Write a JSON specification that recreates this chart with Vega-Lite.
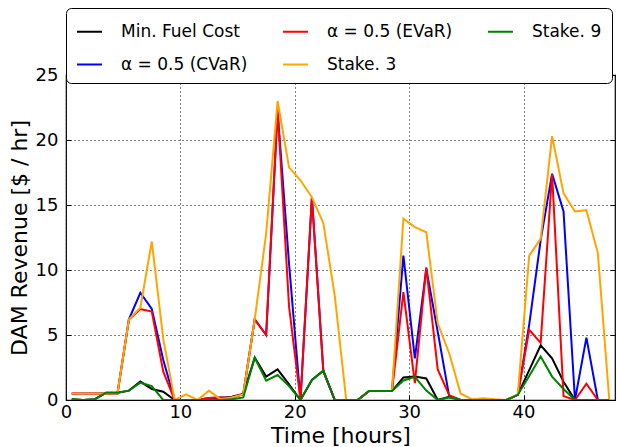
{
 "$schema": "https://vega.github.io/schema/vega-lite/v6.json",
 "width": 549, "height": 325,
 "autosize": "none",
 "padding": {"left": 66, "top": 75, "right": 3, "bottom": 47},
 "background": "white",
 "config": {
  "font": "DejaVu Sans",
  "view": {"stroke": "black", "strokeWidth": 1.2},
  "axis": {"domain": false, "gridColor": "black", "gridDash": [1, 3], "gridWidth": 1, "gridOpacity": 1,
           "tickColor": "black", "tickSize": -5, "tickWidth": 1, "labelColor": "black", "titleColor": "black",
           "labelFontSize": 18, "titleFontSize": 22, "titleFontWeight": "normal", "labelFont": "DejaVu Sans", "titleFont": "DejaVu Sans"}
 },
 "data": {"values": [
{"t":0.5,"s":"Min. Fuel Cost","v":0.05},{"t":1.5,"s":"Min. Fuel Cost","v":0},{"t":2.5,"s":"Min. Fuel Cost","v":0.05},{"t":3.5,"s":"Min. Fuel Cost","v":0.55},{"t":4.5,"s":"Min. Fuel Cost","v":0.55},{"t":5.5,"s":"Min. Fuel Cost","v":0.72},{"t":6.5,"s":"Min. Fuel Cost","v":1.42},{"t":7.5,"s":"Min. Fuel Cost","v":0.85},{"t":8.5,"s":"Min. Fuel Cost","v":0.64},{"t":9.5,"s":"Min. Fuel Cost","v":0},
{"t":10.5,"s":"Min. Fuel Cost","v":0},{"t":11.5,"s":"Min. Fuel Cost","v":0},{"t":12.5,"s":"Min. Fuel Cost","v":0.05},{"t":13.5,"s":"Min. Fuel Cost","v":0.1},{"t":14.5,"s":"Min. Fuel Cost","v":0.25},{"t":15.5,"s":"Min. Fuel Cost","v":0.46},{"t":16.5,"s":"Min. Fuel Cost","v":3.25},{"t":17.5,"s":"Min. Fuel Cost","v":1.8},{"t":18.5,"s":"Min. Fuel Cost","v":2.35},{"t":19.5,"s":"Min. Fuel Cost","v":1.2},
{"t":20.5,"s":"Min. Fuel Cost","v":0},{"t":21.5,"s":"Min. Fuel Cost","v":1.54},{"t":22.5,"s":"Min. Fuel Cost","v":2.25},{"t":23.5,"s":"Min. Fuel Cost","v":0},{"t":24.5,"s":"Min. Fuel Cost","v":0},{"t":25.5,"s":"Min. Fuel Cost","v":0},{"t":26.5,"s":"Min. Fuel Cost","v":0.69},{"t":27.5,"s":"Min. Fuel Cost","v":0.69},{"t":28.5,"s":"Min. Fuel Cost","v":0.69},{"t":29.5,"s":"Min. Fuel Cost","v":1.74},
{"t":30.5,"s":"Min. Fuel Cost","v":1.8},{"t":31.5,"s":"Min. Fuel Cost","v":1.66},{"t":32.5,"s":"Min. Fuel Cost","v":0},{"t":33.5,"s":"Min. Fuel Cost","v":0.25},{"t":34.5,"s":"Min. Fuel Cost","v":0},{"t":35.5,"s":"Min. Fuel Cost","v":0},{"t":36.5,"s":"Min. Fuel Cost","v":0},{"t":37.5,"s":"Min. Fuel Cost","v":0},{"t":38.5,"s":"Min. Fuel Cost","v":0},{"t":39.5,"s":"Min. Fuel Cost","v":0.4},
{"t":40.5,"s":"Min. Fuel Cost","v":2.3},{"t":41.5,"s":"Min. Fuel Cost","v":4.2},{"t":42.5,"s":"Min. Fuel Cost","v":3.2},{"t":43.5,"s":"Min. Fuel Cost","v":1.4},{"t":44.5,"s":"Min. Fuel Cost","v":0},{"t":45.5,"s":"Min. Fuel Cost","v":0},{"t":46.5,"s":"Min. Fuel Cost","v":0},{"t":47.5,"s":"Min. Fuel Cost","v":0},

{"t":0.5,"s":"α = 0.5 (CVaR)","v":0.5},{"t":1.5,"s":"α = 0.5 (CVaR)","v":0.5},{"t":2.5,"s":"α = 0.5 (CVaR)","v":0.5},{"t":3.5,"s":"α = 0.5 (CVaR)","v":0.5},{"t":4.5,"s":"α = 0.5 (CVaR)","v":0.5},{"t":5.5,"s":"α = 0.5 (CVaR)","v":6.2},{"t":6.5,"s":"α = 0.5 (CVaR)","v":8.25},{"t":7.5,"s":"α = 0.5 (CVaR)","v":7.0},{"t":8.5,"s":"α = 0.5 (CVaR)","v":3.1},{"t":9.5,"s":"α = 0.5 (CVaR)","v":0},
{"t":10.5,"s":"α = 0.5 (CVaR)","v":0},{"t":11.5,"s":"α = 0.5 (CVaR)","v":0},{"t":12.5,"s":"α = 0.5 (CVaR)","v":0.15},{"t":13.5,"s":"α = 0.5 (CVaR)","v":0.2},{"t":14.5,"s":"α = 0.5 (CVaR)","v":0.2},{"t":15.5,"s":"α = 0.5 (CVaR)","v":0.45},{"t":16.5,"s":"α = 0.5 (CVaR)","v":6.2},{"t":17.5,"s":"α = 0.5 (CVaR)","v":5.0},{"t":18.5,"s":"α = 0.5 (CVaR)","v":22.2},{"t":19.5,"s":"α = 0.5 (CVaR)","v":10.5},
{"t":20.5,"s":"α = 0.5 (CVaR)","v":0},{"t":21.5,"s":"α = 0.5 (CVaR)","v":15.6},{"t":22.5,"s":"α = 0.5 (CVaR)","v":2.2},{"t":23.5,"s":"α = 0.5 (CVaR)","v":0},{"t":24.5,"s":"α = 0.5 (CVaR)","v":0},{"t":25.5,"s":"α = 0.5 (CVaR)","v":0},{"t":26.5,"s":"α = 0.5 (CVaR)","v":0.69},{"t":27.5,"s":"α = 0.5 (CVaR)","v":0.69},{"t":28.5,"s":"α = 0.5 (CVaR)","v":0.69},{"t":29.5,"s":"α = 0.5 (CVaR)","v":11.1},
{"t":30.5,"s":"α = 0.5 (CVaR)","v":3.2},{"t":31.5,"s":"α = 0.5 (CVaR)","v":10.1},{"t":32.5,"s":"α = 0.5 (CVaR)","v":5.25},{"t":33.5,"s":"α = 0.5 (CVaR)","v":0.3},{"t":34.5,"s":"α = 0.5 (CVaR)","v":0},{"t":35.5,"s":"α = 0.5 (CVaR)","v":0},{"t":36.5,"s":"α = 0.5 (CVaR)","v":0},{"t":37.5,"s":"α = 0.5 (CVaR)","v":0},{"t":38.5,"s":"α = 0.5 (CVaR)","v":0},{"t":39.5,"s":"α = 0.5 (CVaR)","v":0.4},
{"t":40.5,"s":"α = 0.5 (CVaR)","v":5.8},{"t":41.5,"s":"α = 0.5 (CVaR)","v":12.3},{"t":42.5,"s":"α = 0.5 (CVaR)","v":17.4},{"t":43.5,"s":"α = 0.5 (CVaR)","v":14.5},{"t":44.5,"s":"α = 0.5 (CVaR)","v":0},{"t":45.5,"s":"α = 0.5 (CVaR)","v":4.8},{"t":46.5,"s":"α = 0.5 (CVaR)","v":0},{"t":47.5,"s":"α = 0.5 (CVaR)","v":0},

{"t":0.5,"s":"α = 0.5 (EVaR)","v":0.5},{"t":1.5,"s":"α = 0.5 (EVaR)","v":0.5},{"t":2.5,"s":"α = 0.5 (EVaR)","v":0.5},{"t":3.5,"s":"α = 0.5 (EVaR)","v":0.5},{"t":4.5,"s":"α = 0.5 (EVaR)","v":0.5},{"t":5.5,"s":"α = 0.5 (EVaR)","v":6.2},{"t":6.5,"s":"α = 0.5 (EVaR)","v":7.0},{"t":7.5,"s":"α = 0.5 (EVaR)","v":6.8},{"t":8.5,"s":"α = 0.5 (EVaR)","v":2.2},{"t":9.5,"s":"α = 0.5 (EVaR)","v":0},
{"t":10.5,"s":"α = 0.5 (EVaR)","v":0},{"t":11.5,"s":"α = 0.5 (EVaR)","v":0},{"t":12.5,"s":"α = 0.5 (EVaR)","v":0.15},{"t":13.5,"s":"α = 0.5 (EVaR)","v":0.2},{"t":14.5,"s":"α = 0.5 (EVaR)","v":0.2},{"t":15.5,"s":"α = 0.5 (EVaR)","v":0.45},{"t":16.5,"s":"α = 0.5 (EVaR)","v":6.2},{"t":17.5,"s":"α = 0.5 (EVaR)","v":5.0},{"t":18.5,"s":"α = 0.5 (EVaR)","v":22.4},{"t":19.5,"s":"α = 0.5 (EVaR)","v":7.2},
{"t":20.5,"s":"α = 0.5 (EVaR)","v":0},{"t":21.5,"s":"α = 0.5 (EVaR)","v":15.6},{"t":22.5,"s":"α = 0.5 (EVaR)","v":2.2},{"t":23.5,"s":"α = 0.5 (EVaR)","v":0},{"t":24.5,"s":"α = 0.5 (EVaR)","v":0},{"t":25.5,"s":"α = 0.5 (EVaR)","v":0},{"t":26.5,"s":"α = 0.5 (EVaR)","v":0.69},{"t":27.5,"s":"α = 0.5 (EVaR)","v":0.69},{"t":28.5,"s":"α = 0.5 (EVaR)","v":0.69},{"t":29.5,"s":"α = 0.5 (EVaR)","v":8.3},
{"t":30.5,"s":"α = 0.5 (EVaR)","v":1.3},{"t":31.5,"s":"α = 0.5 (EVaR)","v":10.2},{"t":32.5,"s":"α = 0.5 (EVaR)","v":2.35},{"t":33.5,"s":"α = 0.5 (EVaR)","v":0.38},{"t":34.5,"s":"α = 0.5 (EVaR)","v":0},{"t":35.5,"s":"α = 0.5 (EVaR)","v":0},{"t":36.5,"s":"α = 0.5 (EVaR)","v":0},{"t":37.5,"s":"α = 0.5 (EVaR)","v":0},{"t":38.5,"s":"α = 0.5 (EVaR)","v":0},{"t":39.5,"s":"α = 0.5 (EVaR)","v":0.4},
{"t":40.5,"s":"α = 0.5 (EVaR)","v":5.4},{"t":41.5,"s":"α = 0.5 (EVaR)","v":4.4},{"t":42.5,"s":"α = 0.5 (EVaR)","v":17.4},{"t":43.5,"s":"α = 0.5 (EVaR)","v":0.3},{"t":44.5,"s":"α = 0.5 (EVaR)","v":0},{"t":45.5,"s":"α = 0.5 (EVaR)","v":1.25},{"t":46.5,"s":"α = 0.5 (EVaR)","v":0},{"t":47.5,"s":"α = 0.5 (EVaR)","v":0},

{"t":0.5,"s":"Stake. 3","v":0.5},{"t":1.5,"s":"Stake. 3","v":0.5},{"t":2.5,"s":"Stake. 3","v":0.5},{"t":3.5,"s":"Stake. 3","v":0.5},{"t":4.5,"s":"Stake. 3","v":0.5},{"t":5.5,"s":"Stake. 3","v":6.2},{"t":6.5,"s":"Stake. 3","v":7.1},{"t":7.5,"s":"Stake. 3","v":12.2},{"t":8.5,"s":"Stake. 3","v":4.7},{"t":9.5,"s":"Stake. 3","v":0},
{"t":10.5,"s":"Stake. 3","v":0.43},{"t":11.5,"s":"Stake. 3","v":0},{"t":12.5,"s":"Stake. 3","v":0.72},{"t":13.5,"s":"Stake. 3","v":0.05},{"t":14.5,"s":"Stake. 3","v":0.2},{"t":15.5,"s":"Stake. 3","v":0.43},{"t":16.5,"s":"Stake. 3","v":6.2},{"t":17.5,"s":"Stake. 3","v":12.8},{"t":18.5,"s":"Stake. 3","v":23.0},{"t":19.5,"s":"Stake. 3","v":17.9},
{"t":20.5,"s":"Stake. 3","v":16.9},{"t":21.5,"s":"Stake. 3","v":15.6},{"t":22.5,"s":"Stake. 3","v":13.6},{"t":23.5,"s":"Stake. 3","v":8.0},{"t":24.5,"s":"Stake. 3","v":0},{"t":25.5,"s":"Stake. 3","v":0},{"t":26.5,"s":"Stake. 3","v":0.69},{"t":27.5,"s":"Stake. 3","v":0.69},{"t":28.5,"s":"Stake. 3","v":0.69},{"t":29.5,"s":"Stake. 3","v":13.95},
{"t":30.5,"s":"Stake. 3","v":13.3},{"t":31.5,"s":"Stake. 3","v":12.9},{"t":32.5,"s":"Stake. 3","v":5.9},{"t":33.5,"s":"Stake. 3","v":3.6},{"t":34.5,"s":"Stake. 3","v":0.5},{"t":35.5,"s":"Stake. 3","v":0.05},{"t":36.5,"s":"Stake. 3","v":0.13},{"t":37.5,"s":"Stake. 3","v":0.05},{"t":38.5,"s":"Stake. 3","v":0},{"t":39.5,"s":"Stake. 3","v":0.43},
{"t":40.5,"s":"Stake. 3","v":11.1},{"t":41.5,"s":"Stake. 3","v":12.4},{"t":42.5,"s":"Stake. 3","v":20.3},{"t":43.5,"s":"Stake. 3","v":15.9},{"t":44.5,"s":"Stake. 3","v":14.5},{"t":45.5,"s":"Stake. 3","v":14.6},{"t":46.5,"s":"Stake. 3","v":11.3},{"t":47.5,"s":"Stake. 3","v":0},

{"t":0.5,"s":"Stake. 9","v":0.05},{"t":1.5,"s":"Stake. 9","v":0},{"t":2.5,"s":"Stake. 9","v":0.05},{"t":3.5,"s":"Stake. 9","v":0.56},{"t":4.5,"s":"Stake. 9","v":0.56},{"t":5.5,"s":"Stake. 9","v":0.72},{"t":6.5,"s":"Stake. 9","v":1.33},{"t":7.5,"s":"Stake. 9","v":1.07},{"t":8.5,"s":"Stake. 9","v":0},{"t":9.5,"s":"Stake. 9","v":0},
{"t":10.5,"s":"Stake. 9","v":0},{"t":11.5,"s":"Stake. 9","v":0},{"t":12.5,"s":"Stake. 9","v":0},{"t":13.5,"s":"Stake. 9","v":0},{"t":14.5,"s":"Stake. 9","v":0.05},{"t":15.5,"s":"Stake. 9","v":0.2},{"t":16.5,"s":"Stake. 9","v":3.25},{"t":17.5,"s":"Stake. 9","v":1.48},{"t":18.5,"s":"Stake. 9","v":1.92},{"t":19.5,"s":"Stake. 9","v":1.07},
{"t":20.5,"s":"Stake. 9","v":0},{"t":21.5,"s":"Stake. 9","v":1.54},{"t":22.5,"s":"Stake. 9","v":2.25},{"t":23.5,"s":"Stake. 9","v":0},{"t":24.5,"s":"Stake. 9","v":0},{"t":25.5,"s":"Stake. 9","v":0},{"t":26.5,"s":"Stake. 9","v":0.69},{"t":27.5,"s":"Stake. 9","v":0.69},{"t":28.5,"s":"Stake. 9","v":0.69},{"t":29.5,"s":"Stake. 9","v":1.5},
{"t":30.5,"s":"Stake. 9","v":1.78},{"t":31.5,"s":"Stake. 9","v":0.72},{"t":32.5,"s":"Stake. 9","v":0},{"t":33.5,"s":"Stake. 9","v":0.2},{"t":34.5,"s":"Stake. 9","v":0},{"t":35.5,"s":"Stake. 9","v":0},{"t":36.5,"s":"Stake. 9","v":0},{"t":37.5,"s":"Stake. 9","v":0},{"t":38.5,"s":"Stake. 9","v":0},{"t":39.5,"s":"Stake. 9","v":0.4},
{"t":40.5,"s":"Stake. 9","v":1.85},{"t":41.5,"s":"Stake. 9","v":3.35},{"t":42.5,"s":"Stake. 9","v":1.8},{"t":43.5,"s":"Stake. 9","v":0.85},{"t":44.5,"s":"Stake. 9","v":0},{"t":45.5,"s":"Stake. 9","v":0},{"t":46.5,"s":"Stake. 9","v":0},{"t":47.5,"s":"Stake. 9","v":0}
 ]},
 "resolve": {"axis": {"x": "independent", "y": "independent"}},
 "layer": [
  {
   "mark": {"type": "line", "strokeWidth": 2, "clip": true},
   "encoding": {
    "x": {"field": "t", "type": "quantitative", "scale": {"domain": [0, 48], "nice": false, "zero": false},
          "axis": {"values": [0, 10, 20, 30, 40], "title": "Time [hours]", "grid": true, "labelPadding": 8, "titlePadding": 4, "labelFlush": false}},
    "y": {"field": "v", "type": "quantitative", "scale": {"domain": [0, 25], "nice": false},
          "axis": {"values": [0, 5, 10, 15, 20, 25], "title": "DAM Revenue [$ / hr]", "grid": true, "labelPadding": 13, "titlePadding": 4, "labelFlush": false}},
    "color": {"field": "s", "type": "nominal",
      "scale": {"domain": ["Min. Fuel Cost", "α = 0.5 (EVaR)", "Stake. 9", "α = 0.5 (CVaR)", "Stake. 3"],
                "range": ["#000000", "#ff0000", "#008000", "#0000ff", "#ffa500"]},
      "legend": {"title": null, "orient": "none", "legendX": 0, "legendY": -67, "direction": "horizontal", "columns": 3,
                 "symbolType": "stroke", "symbolSize": 625, "symbolStrokeWidth": 2, "labelFontSize": 17, "labelOffset": 18,
                 "columnPadding": 31, "rowPadding": 11, "padding": 10, "strokeColor": "black", "fillColor": "white",
                 "cornerRadius": 5, "labelColor": "black", "labelLimit": 300, "labelFont": "DejaVu Sans"}}
   }
  },
  {
   "mark": {"type": "point", "opacity": 0},
   "encoding": {
    "x": {"field": "t", "type": "quantitative",
          "axis": {"orient": "top", "values": [0, 10, 20, 30, 40], "title": null, "labels": false, "grid": false}},
    "y": {"field": "v", "type": "quantitative",
          "axis": {"orient": "right", "values": [0, 5, 10, 15, 20, 25], "title": null, "labels": false, "grid": false}}
   }
  }
 ]
}
